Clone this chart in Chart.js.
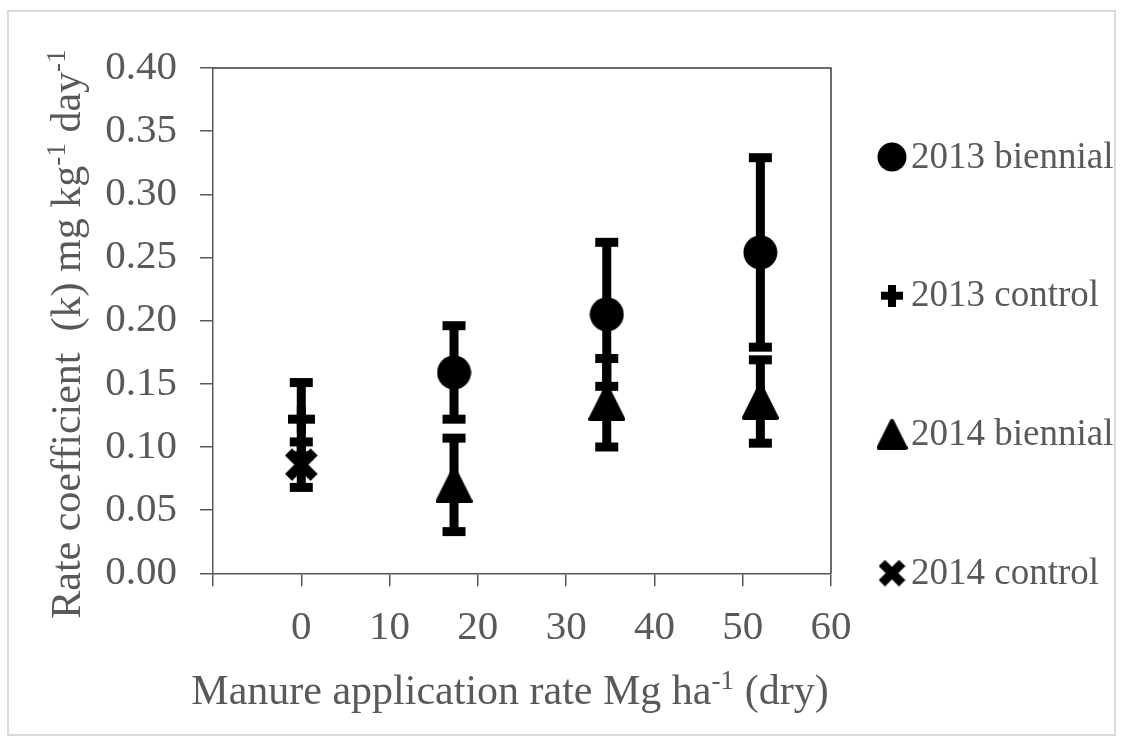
<!DOCTYPE html>
<html>
<head>
<meta charset="utf-8">
<style>
  html, body { margin: 0; padding: 0; background: #fff; }
  canvas { display: block; }
</style>
<script src="https://cdn.jsdelivr.net/npm/chart.js@4.4.1/dist/chart.umd.min.js"></script>
</head>
<body>
<canvas id="chart" width="1123" height="744"></canvas>
<script>
// Manure application rates (Mg ha-1, dry)
const manureRates = [17.3, 34.6, 52.0];
const controlRates = [0];

// Rate coefficient k (mg kg-1 day-1) and error bar half-widths
const biennial2013 = [0.159, 0.205, 0.254];
const biennial2013Err = [0.037, 0.057, 0.075];
const control2013 = [0.122];
const control2013Err = [0.029];
const biennial2014 = [0.070, 0.135, 0.136];
const biennial2014Err = [0.037, 0.035, 0.033];
const control2014 = [0.086];
const control2014Err = [0.018];

const seriesLabels = ['2013 biennial', '2013 control', '2014 biennial', '2014 control'];

// Axis ranges and tick steps
const xRange = [-10, 60];
const xStep = 10;
const yRange = [0, 0.40];
const yStep = 0.05;

const xTitleRuns = [{ t: 'Manure application rate Mg ha' }, { t: '-1', sup: true }, { t: ' (dry)' }];
const yTitleRuns = [{ t: 'Rate coefficient  (k) mg kg' }, { t: '-1', sup: true }, { t: ' day' }, { t: '-1', sup: true }];

const SERIF = '"Liberation Serif", "Times New Roman", serif';
const TEXT_GREY = '#595959';
const AXIS_GREY = '#595959';

// Solid black marker glyphs rendered onto small canvases
function makeMarker(kind, size, thick) {
  const c = document.createElement('canvas');
  c.width = size; c.height = size;
  const g = c.getContext('2d');
  g.fillStyle = '#000';
  g.strokeStyle = '#000';
  const m = size / 2;
  if (kind === 'circle') {
    g.beginPath();
    g.arc(m, m, m - 0.5, 0, Math.PI * 2);
    g.fill();
  } else if (kind === 'triangle') {
    const r = thick;
    g.lineJoin = 'round';
    g.lineWidth = r * 2;
    g.beginPath();
    g.moveTo(m, r);
    g.lineTo(size - r, size - r);
    g.lineTo(r, size - r);
    g.closePath();
    g.fill();
    g.stroke();
  } else if (kind === 'plus') {
    g.fillRect(0, m - thick / 2, size, thick);
    g.fillRect(m - thick / 2, 0, thick, size);
  } else if (kind === 'cross') {
    const p = thick * 0.37;
    g.lineWidth = thick;
    g.lineCap = 'butt';
    g.beginPath();
    g.moveTo(p, p); g.lineTo(size - p, size - p);
    g.moveTo(size - p, p); g.lineTo(p, size - p);
    g.stroke();
  }
  return c;
}

function points(xs, ys) {
  return xs.map((x, i) => ({ x: x, y: ys[i] }));
}

const datasets = [
  { label: seriesLabels[0], data: points(manureRates, biennial2013), errors: biennial2013Err,
    pointStyle: makeMarker('circle', 35), legendMarker: makeMarker('circle', 30) },
  { label: seriesLabels[1], data: points(controlRates, control2013), errors: control2013Err,
    pointStyle: makeMarker('plus', 27, 9), legendMarker: makeMarker('plus', 22, 8) },
  { label: seriesLabels[2], data: points(manureRates, biennial2014), errors: biennial2014Err,
    pointStyle: makeMarker('triangle', 37, 2), legendMarker: makeMarker('triangle', 31, 2) },
  { label: seriesLabels[3], data: points(controlRates, control2014), errors: control2014Err,
    pointStyle: makeMarker('cross', 33, 10), legendMarker: makeMarker('cross', 27, 9) }
].map(d => Object.assign(d, {
  showLine: false,
  pointRadius: 10,
  backgroundColor: '#000',
  borderColor: '#000'
}));

// Vertical error bars with flat caps, drawn under the markers
const errorBars = {
  id: 'errorBars',
  beforeDatasetsDraw(chart) {
    const ctx = chart.ctx;
    const xs = chart.scales.x, ys = chart.scales.y;
    const stem = 9, capW = 23, capH = 9;
    ctx.save();
    ctx.fillStyle = '#000';
    chart.data.datasets.forEach(ds => {
      ds.data.forEach((p, i) => {
        const e = ds.errors[i];
        const px = xs.getPixelForValue(p.x);
        const top = ys.getPixelForValue(p.y + e);
        const bot = ys.getPixelForValue(p.y - e);
        ctx.fillRect(px - stem / 2, top, stem, bot - top);
        ctx.fillRect(px - capW / 2, top - capH / 2, capW, capH);
        ctx.fillRect(px - capW / 2, bot - capH / 2, capW, capH);
      });
    });
    ctx.restore();
  }
};

// Outer border plus the top and right edges of the plot box
const frame = {
  id: 'frame',
  beforeDraw(chart) {
    const ctx = chart.ctx;
    ctx.save();
    ctx.fillStyle = '#fff';
    ctx.fillRect(0, 0, chart.width, chart.height);
    ctx.strokeStyle = '#d9d9d9';
    ctx.lineWidth = 2;
    ctx.strokeRect(8, 11, 1107, 724);
    ctx.restore();
  },
  afterDraw(chart) {
    const a = chart.chartArea;
    const ctx = chart.ctx;
    ctx.save();
    ctx.strokeStyle = '#3a3a3a';
    ctx.lineWidth = 1.5;
    ctx.beginPath();
    ctx.moveTo(a.left, a.top);
    ctx.lineTo(a.right, a.top);
    ctx.lineTo(a.right, a.bottom);
    ctx.stroke();
    ctx.restore();
  }
};

function drawRuns(ctx, runs, size, cx, baseline) {
  const supSize = size * 0.65;
  const widths = runs.map(r => {
    ctx.font = (r.sup ? supSize : size) + 'px ' + SERIF;
    return ctx.measureText(r.t).width;
  });
  const total = widths.reduce((a, b) => a + b, 0);
  let x = cx - total / 2;
  ctx.textAlign = 'left';
  ctx.textBaseline = 'alphabetic';
  runs.forEach((r, i) => {
    ctx.font = (r.sup ? supSize : size) + 'px ' + SERIF;
    ctx.fillText(r.t, x, r.sup ? baseline - size * 0.36 : baseline);
    x += widths[i];
  });
}

// Axis titles with superscript units
const axisTitles = {
  id: 'axisTitles',
  afterDraw(chart) {
    const ctx = chart.ctx;
    ctx.save();
    ctx.fillStyle = TEXT_GREY;
    drawRuns(ctx, xTitleRuns, 42, 510, 704);
    ctx.translate(80, 334);
    ctx.rotate(-Math.PI / 2);
    drawRuns(ctx, yTitleRuns, 42, 0, 0);
    ctx.restore();
  }
};

// Legend column on the right
const sideLegend = {
  id: 'sideLegend',
  afterDraw(chart) {
    const ctx = chart.ctx;
    ctx.save();
    ctx.fillStyle = TEXT_GREY;
    ctx.font = '37px ' + SERIF;
    ctx.textAlign = 'left';
    ctx.textBaseline = 'middle';
    chart.data.datasets.forEach((ds, i) => {
      const cy = 157 + i * 138.7;
      const m = ds.legendMarker;
      ctx.drawImage(m, 892 - m.width / 2, cy - m.height / 2);
      ctx.fillText(ds.label, 911, cy + 1);
    });
    ctx.restore();
  }
};

new Chart(document.getElementById('chart'), {
  type: 'scatter',
  data: { datasets: datasets },
  plugins: [frame, errorBars, axisTitles, sideLegend],
  options: {
    responsive: false,
    devicePixelRatio: 1,
    animation: false,
    events: [],
    layout: { padding: { left: 0, top: 68, right: 292, bottom: 80.7 } },
    plugins: { legend: { display: false }, tooltip: { enabled: false } },
    scales: {
      x: {
        type: 'linear',
        min: xRange[0], max: xRange[1],
        afterFit: s => { s.height = 90; },
        ticks: {
          stepSize: xStep,
          color: TEXT_GREY,
          font: { family: SERIF, size: 41 },
          padding: 17,
          maxRotation: 0,
          callback: v => (v < 0 ? '' : String(v))
        },
        grid: { drawOnChartArea: false, drawTicks: true, tickLength: 13, color: AXIS_GREY, lineWidth: 1.5 },
        border: { color: AXIS_GREY, width: 1.5 }
      },
      y: {
        type: 'linear',
        min: yRange[0], max: yRange[1],
        afterFit: s => { s.width = 213; },
        ticks: {
          stepSize: yStep,
          color: TEXT_GREY,
          font: { family: SERIF, size: 41 },
          padding: 23,
          callback: v => v.toFixed(2)
        },
        grid: { drawOnChartArea: false, drawTicks: true, tickLength: 13, color: AXIS_GREY, lineWidth: 1.5 },
        border: { color: AXIS_GREY, width: 1.5 }
      }
    }
  }
});
</script>
</body>
</html>
